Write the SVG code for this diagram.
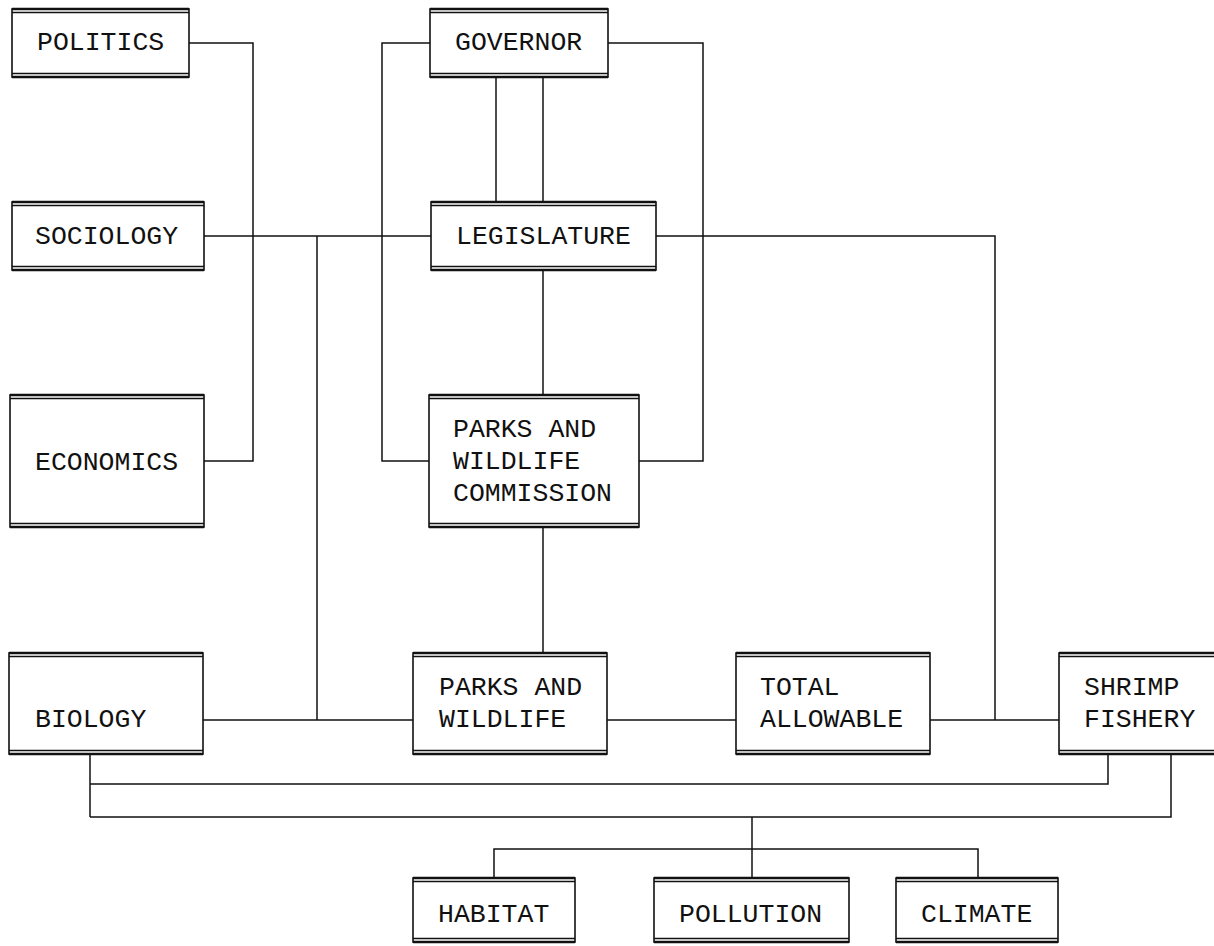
<svg xmlns="http://www.w3.org/2000/svg" width="1214" height="946" viewBox="0 0 1214 946">
  <style>
    .box { fill: #fff; stroke: #111; stroke-width: 1.6; }
    .rule { stroke: #111; stroke-width: 1.3; }
    .edge { stroke: #111; stroke-width: 2.4; }
    .wire { fill: none; stroke: #111; stroke-width: 1.5; }
    .lbl { font-family: "Liberation Mono", "DejaVu Sans Mono", monospace; font-size: 26.5px; fill: #111; }
  </style>
  <defs>
    <!-- doubled top/bottom rules shared by every box; scaled per box width -->
  </defs>
  <rect width="1214" height="946" fill="#fff"/>

  <!-- connectors -->
  <g id="connectors" class="wire">
    <polyline points="189,43 253,43 253,461 204,461"/>
    <line x1="204" y1="236" x2="431" y2="236"/>
    <line x1="317" y1="236" x2="317" y2="720"/>
    <line x1="203" y1="720" x2="413" y2="720"/>
    <polyline points="430,43 382,43 382,461 429,461"/>
    <polyline points="608,43 703,43 703,461 639,461"/>
    <line x1="496" y1="77" x2="496" y2="202"/>
    <line x1="543" y1="77" x2="543" y2="202"/>
    <line x1="543" y1="270" x2="543" y2="395"/>
    <line x1="543" y1="527" x2="543" y2="653"/>
    <polyline points="656,236 995,236 995,720"/>
    <line x1="607" y1="720" x2="736" y2="720"/>
    <line x1="930" y1="720" x2="1059" y2="720"/>
    <line x1="90" y1="754" x2="90" y2="817"/>
    <polyline points="90,784 1108,784 1108,754"/>
    <polyline points="90,817 1171,817 1171,754"/>
    <line x1="752" y1="817" x2="752" y2="878"/>
    <polyline points="494,878 494,849 978,849 978,878"/>
  </g>

  <!-- boxes: rectangle with a heavy edge and a thin inner rule at top and bottom -->
  <g id="politics">
    <rect class="box" x="12" y="9" width="177" height="68"/>
    <line class="edge" x1="12" y1="9" x2="189" y2="9"/>
    <line class="edge" x1="12" y1="77" x2="189" y2="77"/>
    <line class="rule" x1="12" y1="12.5" x2="189" y2="12.5"/>
    <line class="rule" x1="12" y1="73.5" x2="189" y2="73.5"/>
    <text class="lbl" x="37" y="50">POLITICS</text>
  </g>
  <g id="governor">
    <rect class="box" x="430" y="9" width="178" height="68"/>
    <line class="edge" x1="430" y1="9" x2="608" y2="9"/>
    <line class="edge" x1="430" y1="77" x2="608" y2="77"/>
    <line class="rule" x1="430" y1="12.5" x2="608" y2="12.5"/>
    <line class="rule" x1="430" y1="73.5" x2="608" y2="73.5"/>
    <text class="lbl" x="455" y="50">GOVERNOR</text>
  </g>
  <g id="sociology">
    <rect class="box" x="12" y="202" width="192" height="68"/>
    <line class="edge" x1="12" y1="202" x2="204" y2="202"/>
    <line class="edge" x1="12" y1="270" x2="204" y2="270"/>
    <line class="rule" x1="12" y1="205.5" x2="204" y2="205.5"/>
    <line class="rule" x1="12" y1="266.5" x2="204" y2="266.5"/>
    <text class="lbl" x="35" y="244">SOCIOLOGY</text>
  </g>
  <g id="legislature">
    <rect class="box" x="431" y="202" width="225" height="68"/>
    <line class="edge" x1="431" y1="202" x2="656" y2="202"/>
    <line class="edge" x1="431" y1="270" x2="656" y2="270"/>
    <line class="rule" x1="431" y1="205.5" x2="656" y2="205.5"/>
    <line class="rule" x1="431" y1="266.5" x2="656" y2="266.5"/>
    <text class="lbl" x="456" y="244">LEGISLATURE</text>
  </g>
  <g id="economics">
    <rect class="box" x="10" y="395" width="194" height="132"/>
    <line class="edge" x1="10" y1="395" x2="204" y2="395"/>
    <line class="edge" x1="10" y1="527" x2="204" y2="527"/>
    <line class="rule" x1="10" y1="398.5" x2="204" y2="398.5"/>
    <line class="rule" x1="10" y1="523.5" x2="204" y2="523.5"/>
    <text class="lbl" x="35" y="470">ECONOMICS</text>
  </g>
  <g id="commission">
    <rect class="box" x="429" y="395" width="210" height="132"/>
    <line class="edge" x1="429" y1="395" x2="639" y2="395"/>
    <line class="edge" x1="429" y1="527" x2="639" y2="527"/>
    <line class="rule" x1="429" y1="398.5" x2="639" y2="398.5"/>
    <line class="rule" x1="429" y1="523.5" x2="639" y2="523.5"/>
    <text class="lbl" x="453" y="437">PARKS AND</text>
    <text class="lbl" x="453" y="469">WILDLIFE</text>
    <text class="lbl" x="453" y="501">COMMISSION</text>
  </g>
  <g id="biology">
    <rect class="box" x="9" y="653" width="194" height="101"/>
    <line class="edge" x1="9" y1="653" x2="203" y2="653"/>
    <line class="edge" x1="9" y1="754" x2="203" y2="754"/>
    <line class="rule" x1="9" y1="656.5" x2="203" y2="656.5"/>
    <line class="rule" x1="9" y1="750.5" x2="203" y2="750.5"/>
    <text class="lbl" x="35" y="727">BIOLOGY</text>
  </g>
  <g id="parks-wildlife">
    <rect class="box" x="413" y="653" width="194" height="101"/>
    <line class="edge" x1="413" y1="653" x2="607" y2="653"/>
    <line class="edge" x1="413" y1="754" x2="607" y2="754"/>
    <line class="rule" x1="413" y1="656.5" x2="607" y2="656.5"/>
    <line class="rule" x1="413" y1="750.5" x2="607" y2="750.5"/>
    <text class="lbl" x="439" y="695">PARKS AND</text>
    <text class="lbl" x="439" y="727">WILDLIFE</text>
  </g>
  <g id="total-allowable">
    <rect class="box" x="736" y="653" width="194" height="101"/>
    <line class="edge" x1="736" y1="653" x2="930" y2="653"/>
    <line class="edge" x1="736" y1="754" x2="930" y2="754"/>
    <line class="rule" x1="736" y1="656.5" x2="930" y2="656.5"/>
    <line class="rule" x1="736" y1="750.5" x2="930" y2="750.5"/>
    <text class="lbl" x="760" y="695">TOTAL</text>
    <text class="lbl" x="760" y="727">ALLOWABLE</text>
  </g>
  <g id="shrimp-fishery">
    <rect class="box" x="1059" y="653" width="194" height="101"/>
    <line class="edge" x1="1059" y1="653" x2="1253" y2="653"/>
    <line class="edge" x1="1059" y1="754" x2="1253" y2="754"/>
    <line class="rule" x1="1059" y1="656.5" x2="1253" y2="656.5"/>
    <line class="rule" x1="1059" y1="750.5" x2="1253" y2="750.5"/>
    <text class="lbl" x="1084" y="695">SHRIMP</text>
    <text class="lbl" x="1084" y="727">FISHERY</text>
  </g>
  <g id="habitat">
    <rect class="box" x="413" y="878" width="162" height="64"/>
    <line class="edge" x1="413" y1="878" x2="575" y2="878"/>
    <line class="edge" x1="413" y1="942" x2="575" y2="942"/>
    <line class="rule" x1="413" y1="881.5" x2="575" y2="881.5"/>
    <line class="rule" x1="413" y1="938.5" x2="575" y2="938.5"/>
    <text class="lbl" x="438" y="922">HABITAT</text>
  </g>
  <g id="pollution">
    <rect class="box" x="654" y="878" width="195" height="64"/>
    <line class="edge" x1="654" y1="878" x2="849" y2="878"/>
    <line class="edge" x1="654" y1="942" x2="849" y2="942"/>
    <line class="rule" x1="654" y1="881.5" x2="849" y2="881.5"/>
    <line class="rule" x1="654" y1="938.5" x2="849" y2="938.5"/>
    <text class="lbl" x="679" y="922">POLLUTION</text>
  </g>
  <g id="climate">
    <rect class="box" x="896" y="878" width="162" height="64"/>
    <line class="edge" x1="896" y1="878" x2="1058" y2="878"/>
    <line class="edge" x1="896" y1="942" x2="1058" y2="942"/>
    <line class="rule" x1="896" y1="881.5" x2="1058" y2="881.5"/>
    <line class="rule" x1="896" y1="938.5" x2="1058" y2="938.5"/>
    <text class="lbl" x="921" y="922">CLIMATE</text>
  </g>
</svg>
